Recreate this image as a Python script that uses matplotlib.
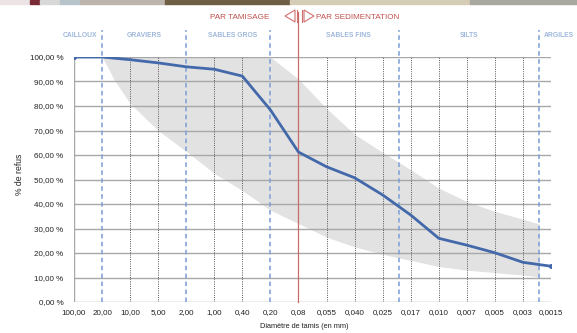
import numpy as np
import matplotlib
matplotlib.use("Agg")
import matplotlib.pyplot as plt
from matplotlib.patches import Rectangle, Polygon
from matplotlib.lines import Line2D

plt.rcParams['font.family'] = ['Liberation Sans', 'DejaVu Sans']

# ---------------- data ----------------
diam_labels = ["100,00", "20,00", "10,00", "5,00", "2,00", "1,00", "0,40", "0,20", "0,08",
               "0,055", "0,040", "0,025", "0,017", "0,010", "0,007", "0,005", "0,003", "0,0015"]
diam_values = [100, 20, 10, 5, 2, 1, 0.4, 0.2, 0.08, 0.055, 0.04, 0.025, 0.017, 0.010,
               0.007, 0.005, 0.003, 0.0015]
refus = [100.0, 100.0, 98.9, 97.6, 96.0, 95.0, 92.2, 78.4, 61.2, 55.2, 50.7, 43.7, 35.5,
         26.0, 23.2, 20.1, 16.2, 14.6]

band_diam = [20, 17.5, 15, 10, 5, 2, 1, 0.4, 0.2, 0.08, 0.055, 0.04, 0.025, 0.02, 0.017,
             0.01, 0.007, 0.005, 0.003, 0.002]
band_upper = [100, 100, 100, 100, 100, 100, 100, 100, 100, 91, 79, 68.5, 61, 57, 54,
              46.5, 41, 37, 33.8, 31.8]
band_lower = [100, 96, 91, 81, 70, 61.5, 52.5, 45.5, 37.5, 32, 26.5, 22.5, 19.5, 18, 17,
              14.5, 13, 12, 11, 10.3]

zone_limits = [20, 2, 0.2, 0.02, 0.002]
separation = 0.08
zone_names = ["CAILLOUX", "GRAVIERS", "SABLES GROS", "SABLES FINS", "SILTS", "ARGILES"]
y_ticks = [0, 10, 20, 30, 40, 50, 60, 70, 80, 90, 100]

# ---------------- helpers ----------------
logd = np.log(np.array(diam_values, dtype=float))
idx = np.arange(len(diam_values))


def pos(d):
    """category position of a diameter (log interpolation between sieves)"""
    return float(np.interp(-np.log(d), -logd, idx))


# ---------------- figure ----------------
W, H = 577, 333
fig = plt.figure(figsize=(W / 100, H / 100), dpi=100)
fig.patch.set_facecolor("white")

# photo strip at the very top
strip = [(0, 30, "#ece4e4"), (30, 40, "#7a2a35"), (40, 60, "#d8d8d8"), (60, 80, "#b8c4cc"),
         (80, 165, "#bcb5ac"), (165, 290, "#6e5e44"), (290, 470, "#d6cdb6"), (470, 577, "#a9a8a0")]
for x0, x1, c in strip:
    fig.patches.append(Rectangle((x0 / W, 1 - 4 / H), (x1 - x0) / W, 4 / H,
                                 transform=fig.transFigure, color=c, zorder=0))

L, R, T, B = 74, 551, 57, 302
ax = fig.add_axes([L / W, 1 - B / H, (R - L) / W, (B - T) / H])
n = len(diam_values)
ax.set_xlim(0, n - 1)
ax.set_ylim(0, 100)
for s in ax.spines.values():
    s.set_visible(False)

# band
bpos = [pos(d) for d in band_diam]
ax.fill_between(bpos, band_lower, band_upper, color="#e2e2e2", lw=0, zorder=1)

# horizontal grid
for yv in y_ticks:
    ax.axhline(yv, color="#a8a8a8", lw=1.0, zorder=2)
ax.axvline(0, color="#a8a8a8", lw=1.0, zorder=2)

limit_pos = [pos(d) for d in zone_limits]
sep_pos = pos(separation)

# dotted vertical lines at each sieve
for i in range(1, n):
    if any(abs(i - p) < 1e-6 for p in limit_pos) or abs(i - sep_pos) < 1e-6:
        continue
    ax.axvline(i, color="#555555", lw=0.7, ls=(0, (1, 1.3)), zorder=3)

# zone boundaries (blue dashed), extending above the plot
for p in limit_pos:
    ax.plot([p, p], [0, 111], color="#7b9fd6", lw=1.1, ls=(0, (3, 2.2)),
            clip_on=False, zorder=4)

# separation line (red)
ax.plot([sep_pos, sep_pos], [0, 118.5], color="#c86a6a", lw=0.9, clip_on=False, zorder=4)

# data line
ax.plot(idx, refus, color="#4469aa", lw=2.0, marker="o", ms=2.6, markevery=[0, n - 1],
        zorder=5, solid_joinstyle="round")

# ticks
tick_fs = 5.8
ax.set_xticks(idx)
ax.set_xticklabels(diam_labels, fontsize=tick_fs, color="#222222")
ax.set_yticks(y_ticks)
ax.set_yticklabels([f"{v:.2f}".replace(".", ",") + " %" for v in y_ticks],
                   fontsize=tick_fs, color="#222222")
ax.tick_params(axis="x", length=0, pad=5)
ax.tick_params(axis="y", length=0, pad=7.5)

# zone labels
zcol = "#9fb7da"
zfs = 4.9
zkw = dict(fontsize=zfs, color=zcol, clip_on=False, fontweight="bold", va="center")
bounds = [0] + limit_pos + [n - 1]
ylab = 108.6
ax.text(bounds[1] - 0.18, ylab, zone_names[0], ha="right", **zkw)
ax.text((bounds[1] + bounds[2]) / 2, ylab, zone_names[1], ha="center", **zkw)
ax.text((bounds[2] + bounds[3]) / 2 + 0.15, ylab, zone_names[2], ha="center", **zkw)
ax.text((sep_pos + bounds[4]) / 2, ylab, zone_names[3], ha="center", **zkw)
ax.text((bounds[4] + bounds[5]) / 2, ylab, zone_names[4], ha="center", **zkw)
ax.text(bounds[5] + 0.15, ylab, zone_names[5], ha="left", **zkw)

# PAR TAMISAGE / PAR SEDIMENTATION
red = "#c0504d"
ax.text(sep_pos - 1.05, 116.3, "PAR TAMISAGE", ha="right", va="center", fontsize=5.9,
        color=red, clip_on=False)
ax.text(sep_pos + 0.63, 116.3, "PAR SEDIMENTATION", ha="left", va="center", fontsize=5.9,
        color=red, clip_on=False)

# arrows symbol (pixel-based, in figure coords)
def fp(x, y):
    return (x / W, 1 - y / H)

tri_l = Polygon([fp(285, 16), fp(295, 10), fp(295, 22)], closed=True, fill=False,
                edgecolor="#d07070", lw=0.8, transform=fig.transFigure)
tri_r = Polygon([fp(304, 10), fp(304, 22), fp(314, 16)], closed=True, fill=False,
                edgecolor="#d07070", lw=0.8, transform=fig.transFigure)
fig.patches.extend([tri_l, tri_r])
for xx in (297.2, 301.8):
    fig.lines.append(Line2D([xx / W, xx / W], [1 - 10 / H, 1 - 22 / H], color="#d07070",
                            lw=0.8, transform=fig.transFigure))

# axis titles
fig.text(20 / W, 1 - 174 / H, "% de refus", rotation=90, ha="center", va="center",
         fontsize=6.2, color="#222222")
fig.text(304 / W, 1 - 326 / H, "Diamètre de tamis (en mm)", ha="center", va="center",
         fontsize=5.3, color="#222222")

fig.savefig("out.png", dpi=100)
